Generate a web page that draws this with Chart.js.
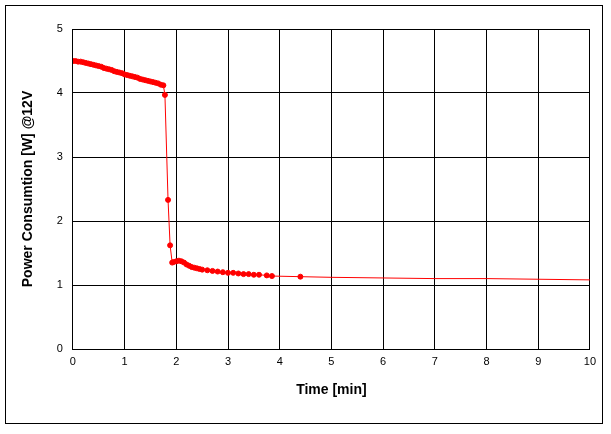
<!DOCTYPE html>
<html><head><style>
html,body{margin:0;padding:0;background:#fff;}
#wrap{position:absolute;left:5px;top:5px;width:598px;height:419px;border:1px solid #000;box-sizing:border-box;}
</style>
<script src="https://cdn.jsdelivr.net/npm/chart.js"></script></head>
<body><div id="wrap"><canvas id="c"></canvas></div>
<script>
const timeMin = [0,0.05,0.1,0.15,0.2,0.25,0.3,0.35,0.4,0.45,0.5,0.55,0.6,0.65,0.7,0.75,0.8,0.85,0.9,0.95,1.0,1.05,1.1,1.15,1.2,1.25,1.3,1.35,1.4,1.45,1.5,1.55,1.6,1.65,1.7,1.75,1.78,1.84,1.88,1.92,1.95,2.0,2.05,2.1,2.15,2.2,2.25,2.3,2.35,2.4,2.45,2.5,2.6,2.7,2.8,2.9,3.0,3.1,3.2,3.3,3.4,3.5,3.6,3.75,3.85,4.4,5.0,6.0,7.0,8.0,9.0,10.0];
const power = [4.50,4.50,4.49,4.49,4.48,4.47,4.46,4.45,4.44,4.43,4.42,4.41,4.39,4.38,4.37,4.36,4.34,4.33,4.32,4.31,4.29,4.28,4.27,4.26,4.25,4.24,4.22,4.21,4.20,4.19,4.18,4.17,4.16,4.15,4.13,4.12,3.97,2.33,1.62,1.35,1.36,1.37,1.38,1.37,1.35,1.32,1.30,1.28,1.27,1.26,1.25,1.24,1.23,1.22,1.21,1.20,1.19,1.19,1.18,1.17,1.17,1.16,1.16,1.15,1.14,1.13,1.12,1.11,1.10,1.10,1.09,1.08];
const markerSize = timeMin.map(t => t <= 4.4 ? 2.5 : 0);
const xTicks = [0,1,2,3,4,5,6,7,8,9,10];
const yTicks = [0,1,2,3,4,5];
new Chart(document.getElementById('c'), {
  type:'scatter',
  data:{datasets:[{data:timeMin.map((t,i)=>({x:t,y:power[i]})),showLine:true,borderColor:'#ff0000',backgroundColor:'#ff0000',borderWidth:1,pointRadius:markerSize,pointStyle:'circle',tension:0}]},
  options:{responsive:true,maintainAspectRatio:false,animation:false,
    layout:{padding:{top:23,right:9,left:10,bottom:20}},
    plugins:{legend:{display:false},tooltip:{enabled:false}},
    scales:{
      x:{type:'linear',min:0,max:10,afterBuildTicks:a=>{a.ticks=xTicks.map(v=>({value:v}));},
        grid:{color:'#000',lineWidth:1,drawTicks:false},border:{color:'#000'},
        ticks:{color:'#000',font:{family:'Liberation Sans',size:11},padding:6},
        title:{display:true,text:'Time [min]',color:'#000',font:{family:'Liberation Sans',size:14,weight:'bold'},padding:{top:8}}},
      y:{min:0,max:5,afterBuildTicks:a=>{a.ticks=yTicks.map(v=>({value:v}));},
        grid:{color:'#000',lineWidth:1,drawTicks:false},border:{color:'#000'},
        ticks:{color:'#000',font:{family:'Liberation Sans',size:11},padding:10},
        title:{display:true,text:'Power Consumtion [W] @12V',color:'#000',font:{family:'Liberation Sans',size:14,weight:'bold'},padding:{bottom:10}}}
    }}
});
</script></body></html>
